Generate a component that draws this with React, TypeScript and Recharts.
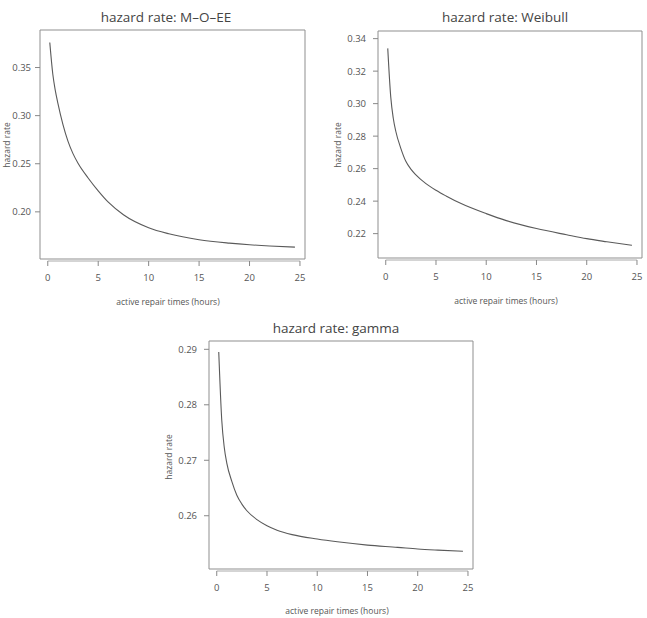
import { LineChart, Line, XAxis, YAxis, ReferenceArea, ReferenceLine } from 'recharts'

// active repair times (hours)
const hours = [0.2, 0.5, 0.75, 1, 1.5, 2, 2.5, 3, 4, 5, 6, 7.5, 10, 12, 15, 18, 20, 22, 24.5]
// hazard rates
const moee = [0.376, 0.343, 0.326, 0.313, 0.291, 0.2735, 0.2605, 0.2505, 0.2352, 0.2218, 0.21, 0.197, 0.1835, 0.1772, 0.171, 0.1675, 0.1658, 0.1645, 0.1633]
const weibull = [0.334, 0.304, 0.291, 0.283, 0.2725, 0.2645, 0.2597, 0.2562, 0.2508, 0.2467, 0.2432, 0.2385, 0.2323, 0.228, 0.2231, 0.2193, 0.2169, 0.215, 0.2128]
const gamma = [0.2895, 0.2772, 0.2723, 0.2695, 0.2662, 0.2637, 0.2621, 0.2609, 0.2593, 0.2582, 0.2574, 0.2566, 0.2558, 0.2553, 0.2547, 0.2543, 0.254, 0.2538, 0.2536]

const xTicks = [0, 5, 10, 15, 20, 25]
const moeeTicks = [0.2, 0.25, 0.3, 0.35]
const weibullTicks = [0.22, 0.24, 0.26, 0.28, 0.3, 0.32, 0.34]
const gammaTicks = [0.26, 0.27, 0.28, 0.29]

const data = hours.map((h, i) => ({ h, moee: moee[i], weibull: weibull[i], gamma: gamma[i] }))

const X_DOMAIN: [number, number] = [-0.77, 25.5]
const FONT = '"Open Sans", "Noto Sans", sans-serif'
const TEXT = '#555'
const BOX = '#8f8f8f'

function XTick({ x, y, payload }: any) {
  return (
    <g>
      <line x1={x} x2={x} y1={y + 2} y2={y + 7} stroke="#888" />
      <text x={x} y={y + 18} textAnchor="middle" dominantBaseline="central" fontSize={9.5} fill={TEXT} fontFamily={FONT}>
        {payload.value}
      </text>
    </g>
  )
}

// R style axis line, drawn only between first and last tick, a little below the box
const AxisLineShape = (p: any) => (
  <line x1={p.x1} x2={p.x2} y1={p.y1 + 2} y2={p.y2 + 2} stroke="#aaa" strokeWidth={1} />
)

type PanelProps = {
  dataKey: string
  title: string
  yDomain: [number, number]
  yTicks: number[]
  left: number
  top: number
  width: number
  height: number
  margin: { top: number; right: number; left: number; bottom: number }
  yWidth: number
  xHeight: number
  tickGap: number
  titleX: number
  titleY: number
  xLabelX: number
  xLabelY: number
  yLabelX: number
  yLabelY: number
}

function Panel(p: PanelProps) {
  return (
    <div style={{ position: 'absolute', left: p.left, top: p.top, width: p.width, height: p.height }}>
      <LineChart width={p.width} height={p.height} data={data} margin={p.margin}>
        <XAxis
          dataKey="h"
          type="number"
          domain={X_DOMAIN}
          ticks={xTicks}
          allowDataOverflow
          axisLine={false}
          tickLine={false}
          tickSize={0}
          tickMargin={0}
          height={p.xHeight}
          tick={<XTick />}
        />
        <YAxis
          type="number"
          domain={p.yDomain}
          ticks={p.yTicks}
          allowDataOverflow
          width={p.yWidth}
          axisLine={false}
          tickSize={5}
          tickMargin={p.tickGap}
          tickLine={{ stroke: '#888' }}
          tick={{ fontSize: 9.5, fill: TEXT, fontFamily: FONT }}
          tickFormatter={(v: number) => v.toFixed(2)}
        />
        <ReferenceArea x1={X_DOMAIN[0]} x2={X_DOMAIN[1]} y1={p.yDomain[0]} y2={p.yDomain[1]} fill="none" stroke={BOX} strokeWidth={1} fillOpacity={0} />
        <ReferenceLine
          segment={[{ x: 0, y: p.yDomain[0] }, { x: 25, y: p.yDomain[0] }]}
          ifOverflow="visible"
          shape={AxisLineShape}
        />
        <Line type="monotone" dataKey={p.dataKey} stroke="#5a5a5a" strokeWidth={1.1} dot={false} isAnimationActive={false} />
      </LineChart>
      <div style={{ position: 'absolute', left: p.titleX, top: p.titleY, transform: 'translate(-50%, -50%)', whiteSpace: 'nowrap', fontFamily: FONT, fontSize: 13.5, color: '#444' }}>
        {p.title}
      </div>
      <div style={{ position: 'absolute', left: p.xLabelX, top: p.xLabelY, transform: 'translate(-50%, -50%)', whiteSpace: 'nowrap', fontFamily: FONT, fontSize: 8.5, color: TEXT }}>
        active repair times (hours)
      </div>
      <div style={{ position: 'absolute', left: p.yLabelX, top: p.yLabelY, transform: 'translate(-50%, -50%) rotate(-90deg)', whiteSpace: 'nowrap', fontFamily: FONT, fontSize: 8.5, color: TEXT }}>
        hazard rate
      </div>
    </div>
  )
}

export default function App() {
  return (
    <div style={{ position: 'absolute', left: 0, top: 0, width: 647, height: 618, background: '#fff', overflow: 'hidden' }}>
      <Panel
        dataKey="moee"
        title="hazard rate: M–O–EE"
        yDomain={[0.151, 0.389]}
        yTicks={moeeTicks}
        left={0}
        top={0}
        width={320}
        height={310}
        margin={{ top: 30, right: 15, left: 0, bottom: 0 }}
        yWidth={40}
        xHeight={51}
        tickGap={4}
        titleX={166}
        titleY={17}
        xLabelX={168}
        xLabelY={301}
        yLabelX={6}
        yLabelY={145}
      />
      <Panel
        dataKey="weibull"
        title="hazard rate: Weibull"
        yDomain={[0.205, 0.3447]}
        yTicks={weibullTicks}
        left={320}
        top={0}
        width={327}
        height={310}
        margin={{ top: 31, right: 5, left: 0, bottom: 0 }}
        yWidth={58}
        xHeight={52}
        tickGap={7}
        titleX={185}
        titleY={17}
        xLabelX={186}
        xLabelY={300}
        yLabelX={17}
        yLabelY={145}
      />
      <Panel
        dataKey="gamma"
        title="hazard rate: gamma"
        yDomain={[0.2504, 0.2915]}
        yTicks={gammaTicks}
        left={150}
        top={300}
        width={350}
        height={318}
        margin={{ top: 41, right: 27, left: 0, bottom: 0 }}
        yWidth={59}
        xHeight={49}
        tickGap={7}
        titleX={186}
        titleY={28}
        xLabelX={187}
        xLabelY={310}
        yLabelX={18}
        yLabelY={157}
      />
    </div>
  )
}
